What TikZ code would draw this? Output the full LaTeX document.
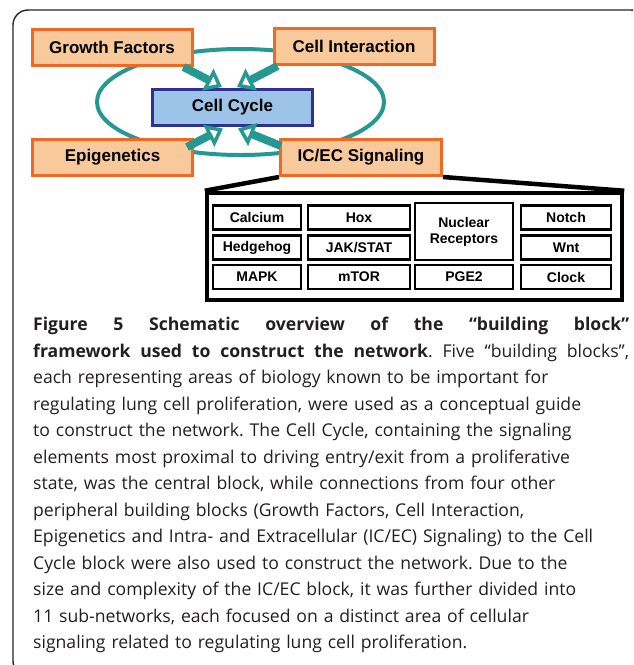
\documentclass[tikz,border=0pt]{standalone}
\usepackage{fontspec}
\setmainfont{Open Sans}
\newfontfamily\arialfont{Liberation Sans}
\usetikzlibrary{arrows.meta,calc,positioning}

\definecolor{tealline}{RGB}{38,152,146}
\definecolor{orangeline}{RGB}{242,103,36}
\definecolor{peach}{RGB}{248,201,155}
\definecolor{ccblue}{RGB}{157,196,232}
\definecolor{ccnavy}{RGB}{46,49,146}
\definecolor{captext}{RGB}{35,31,32}

\newcommand{\fullline}[1]{\makebox[596pt][s]{\spaceskip=0.25em plus 1fil\relax #1}}

\tikzset{
  block/.style={draw=orangeline, line width=3pt, fill=peach, minimum width=160pt,
    minimum height=36pt, inner sep=0pt, font=\arialfont\bfseries\fontsize{17}{20}\selectfont},
  ccblock/.style={block, draw=ccnavy, fill=ccblue},
  subnet/.style={draw=black, line width=2.2pt, minimum height=24pt, inner sep=0pt,
    align=center, font=\arialfont\bfseries\fontsize{14}{16}\selectfont},
  feeds/.style={tealline, line width=8pt,
    -{Triangle[open, length=16pt, width=24pt, line width=3.5pt]}},
  zoomline/.style={line width=4.5pt},
}

\begin{document}
\frenchspacing
\begin{tikzpicture}[x=1pt, y=-1pt]
\useasboundingbox (0,0) rectangle (633,665);
\clip (0,0) rectangle (633,665);
\fill[white] (0,0) rectangle (633,665);
\draw[line width=1.4pt, draw=black!85, rounded corners=15pt] (13,10) rectangle (646,676);

\draw[tealline, line width=4pt] (240.5,102) ellipse [x radius=143.5, y radius=53];

\node[block] (gf) at (112,47.5) {Growth Factors};
\node[block] (ci) at (354,46.5) {Cell Interaction};
\node[ccblock] (cc) at (232.5,107.5) {Cell Cycle};
\node[block] (epi) at (112.5,157.5) {Epigenetics};
\node[block, minimum width=161pt] (icec) at (361,157.5) {IC/EC Signaling};

\draw[feeds] ($(gf.south east)+(-10,0)$) -- ($(cc.north)+(-10.5,-1)$);
\draw[feeds] ($(ci.south west)+(5,0)$) -- ($(cc.north)+(4.5,-1)$);
\draw[feeds] ($(epi.north east)+(-7,9)$) -- ($(cc.south)+(-9.5,1.5)$);
\draw[feeds] ($(icec.north west)+(2,8)$) -- ($(cc.south)+(5.5,1.5)$);

% IC/EC sub-networks
\node[draw, line width=4.5pt, minimum width=415pt, minimum height=107pt] (detail) at (414.5,246.5) {};
\draw[zoomline] (icec.south west) -- (detail.north west);
\draw[zoomline] (icec.south east) -- (detail.north east);

\node[subnet, minimum width=88pt] (calc) at (257,217.5) {Calcium};
\node[subnet, minimum width=88pt] (hh) at (257,247.5) {Hedgehog};
\node[subnet, minimum width=88pt] (mapk) at (257,277) {MAPK};
\node[subnet, minimum width=102pt] (hox) at (359,217.5) {Hox};
\node[subnet, minimum width=102pt] (jak) at (359,247.5) {JAK/STAT};
\node[subnet, minimum width=102pt] (mtor) at (359,277) {mTOR};
\node[subnet, minimum width=98pt, minimum height=57pt] (nr) at (464,231.5) {Nuclear\\Receptors};
\node[subnet, minimum width=98pt] (pge) at (464,277) {PGE2};
\node[subnet, minimum width=90pt] (notch) at (566,217.5) {Notch};
\node[subnet, minimum width=90pt] (wnt) at (566,247.5) {Wnt};
\node[subnet, minimum width=90pt] (clock) at (566,277) {Clock};

\node[anchor=north west, text width=596pt, inner sep=0pt, text=captext,
  font=\fontsize{17.6}{26.5}\selectfont] (cap) at (33,317) {%
\fullline{\bfseries Figure 5 Schematic overview of the “building block”}\\
\fullline{\textbf{framework used to construct the network}. Five “building blocks”,}\\
each representing areas of biology known to be important for\\
regulating lung cell proliferation, were used as a conceptual guide\\
to construct the network. The Cell Cycle, containing the signaling\\
elements most proximal to driving entry/exit from a proliferative\\
state, was the central block, while connections from four other\\
peripheral building blocks (Growth Factors, Cell Interaction,\\
Epigenetics and Intra- and Extracellular (IC/EC) Signaling) to the Cell\\
Cycle block were also used to construct the network. Due to the\\
size and complexity of the IC/EC block, it was further divided into\\
11 sub-networks, each focused on a distinct area of cellular\\
signaling related to regulating lung cell proliferation.};
\end{tikzpicture}
\end{document}
